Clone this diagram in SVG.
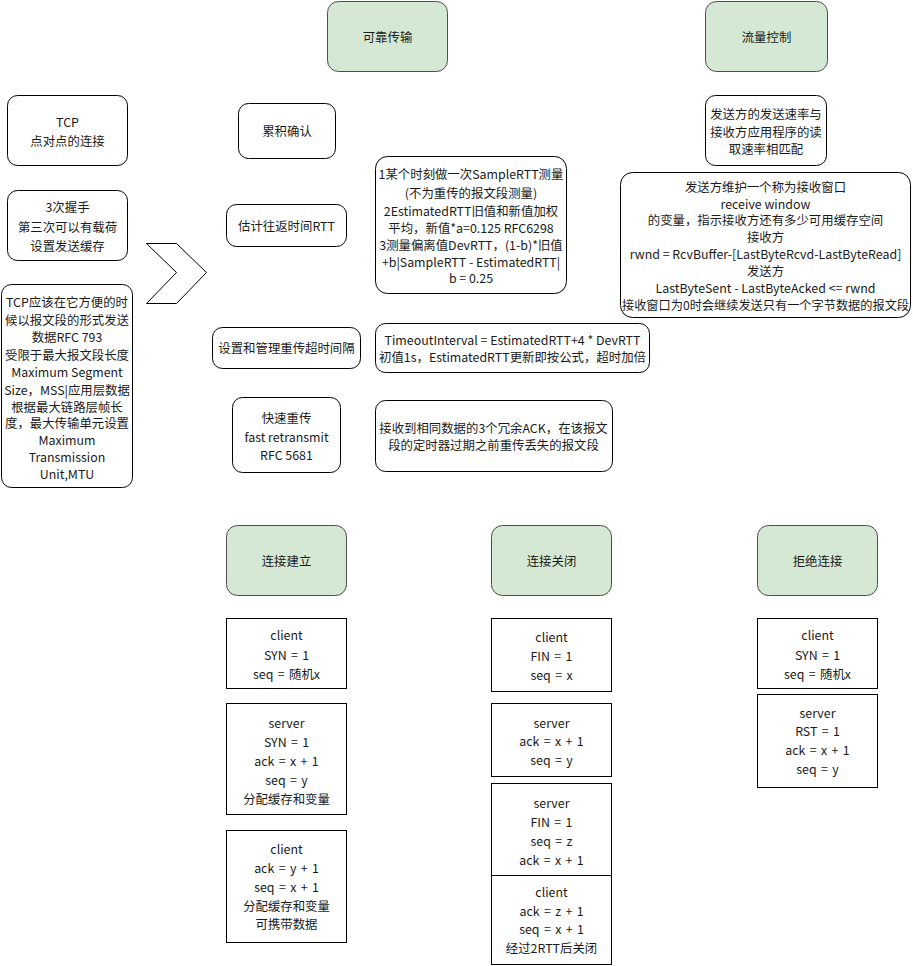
<svg xmlns="http://www.w3.org/2000/svg" width="913" height="966" viewBox="0 0 913 966">
  <style>
    .box { fill: #ffffff; stroke: #000000; stroke-width: 1; }
    .head { fill: #d5e8d4; stroke: #4d4d4d; stroke-width: 1; }
    .sq { fill: #ffffff; stroke: #000000; stroke-width: 1; }
    text { font-family: "Noto Sans CJK SC", "Noto Sans", sans-serif; font-size: 12.4px; fill: #1a1a1a; text-anchor: middle; dominant-baseline: central; }
    .seg text { word-spacing: 1.6px; }
  </style>
  <rect width="913" height="966" fill="#ffffff"/>

  <!-- section headers -->
  <g id="reliable">
    <rect class="head" x="327.5" y="1.5" width="120" height="70" rx="11"/>
    <text x="387.5" y="37">可靠传输</text>
  </g>
  <g id="flow-control">
    <rect class="head" x="705.5" y="1.5" width="122" height="70" rx="11"/>
    <text x="766.5" y="37">流量控制</text>
  </g>

  <!-- left column -->
  <g id="tcp">
    <rect class="box" x="7.5" y="95.5" width="120" height="70" rx="10"/>
    <text x="67.5" y="122">TCP</text>
    <text x="67.5" y="141">点对点的连接</text>
  </g>
  <g id="handshake">
    <rect class="box" x="7.5" y="190.5" width="120" height="70" rx="10"/>
    <text x="67.5" y="207">3次握手</text>
    <text x="67.5" y="226.5">第三次可以有载荷</text>
    <text x="67.5" y="246">设置发送缓存</text>
  </g>
  <g id="mss">
    <rect class="box" x="1.5" y="284.5" width="131" height="203" rx="10"/>
    <text x="67" y="302">TCP应该在它方便的时</text>
    <text x="67" y="319.5">候以报文段的形式发送</text>
    <text x="67" y="337">数据RFC 793</text>
    <text x="67" y="354.5">受限于最大报文段长度</text>
    <text x="67" y="372">Maximum Segment</text>
    <text x="67" y="389.5">Size，MSS|应用层数据</text>
    <text x="67" y="406.5">根据最大链路层帧长</text>
    <text x="67" y="423">度，最大传输单元设置</text>
    <text x="67" y="440">Maximum</text>
    <text x="67" y="457">Transmission</text>
    <text x="67" y="474">Unit,MTU</text>
  </g>
  <g id="chevron">
    <polygon points="146.5,243.5 176.5,243.5 206.5,272.5 176.5,303.5 146.5,303.5 176.5,272.5" fill="#ffffff" stroke="#000000" stroke-width="1"/>
  </g>

  <!-- reliable transfer items -->
  <g id="cumulative-ack">
    <rect class="box" x="238.5" y="103.5" width="97" height="55" rx="10"/>
    <text x="287" y="131">累积确认</text>
  </g>
  <g id="rtt">
    <rect class="box" x="226.5" y="204.5" width="120" height="42" rx="10"/>
    <text x="286.5" y="225.5">估计往返时间RTT</text>
  </g>
  <g id="timeout">
    <rect class="box" x="212.5" y="327.5" width="148" height="41" rx="10"/>
    <text x="286.5" y="348">设置和管理重传超时间隔</text>
  </g>
  <g id="fast-retransmit">
    <rect class="box" x="232.5" y="397.5" width="108" height="75" rx="10"/>
    <text x="286.5" y="417.5">快速重传</text>
    <text x="286.5" y="436.5">fast retransmit</text>
    <text x="286.5" y="455">RFC 5681</text>
  </g>
  <g id="rtt-detail">
    <rect class="box" x="375.5" y="156.5" width="191" height="137" rx="12"/>
    <text x="471" y="174">1某个时刻做一次SampleRTT测量</text>
    <text x="471" y="192.5">(不为重传的报文段测量)</text>
    <text x="471" y="210.5">2EstimatedRTT旧值和新值加权</text>
    <text x="471" y="227.5">平均，新值*a=0.125 RFC6298</text>
    <text x="471" y="244.5">3测量偏离值DevRTT，(1-b)*旧值</text>
    <text x="471" y="261.5">+b|SampleRTT - EstimatedRTT|</text>
    <text x="471" y="278">b = 0.25</text>
  </g>
  <g id="timeout-detail">
    <rect class="box" x="375.5" y="323.5" width="274" height="49" rx="10"/>
    <text x="512.5" y="340">TimeoutInterval = EstimatedRTT+4 * DevRTT</text>
    <text x="512.5" y="356.5">初值1s，EstimatedRTT更新即按公式，超时加倍</text>
  </g>
  <g id="fast-retransmit-detail">
    <rect class="box" x="375.5" y="400.5" width="237" height="71" rx="10"/>
    <text x="493.5" y="428">接收到相同数据的3个冗余ACK，在该报文</text>
    <text x="493.5" y="444.5">段的定时器过期之前重传丢失的报文段</text>
  </g>

  <!-- flow control items -->
  <g id="rate-match">
    <rect class="box" x="705.5" y="95.5" width="121" height="70" rx="10"/>
    <text x="766" y="113.5">发送方的发送速率与</text>
    <text x="766" y="131.5">接收方应用程序的读</text>
    <text x="766" y="149">取速率相匹配</text>
  </g>
  <g id="rwnd">
    <rect class="box" x="620.5" y="172.5" width="290" height="145" rx="12"/>
    <text x="765.5" y="187">发送方维护一个称为接收窗口</text>
    <text x="765.5" y="203.5">receive window</text>
    <text x="765.5" y="220">的变量，指示接收方还有多少可用缓存空间</text>
    <text x="765.5" y="237">接收方</text>
    <text x="765.5" y="254">rwnd = RcvBuffer-[LastByteRcvd-LastByteRead]</text>
    <text x="765.5" y="271">发送方</text>
    <text x="765.5" y="288">LastByteSent - LastByteAcked &lt;= rwnd</text>
    <text x="765.5" y="304.5" style="font-size:12.2px">接收窗口为0时会继续发送只有一个字节数据的报文段</text>
  </g>

  <!-- connection setup -->
  <g id="setup">
    <rect class="head" x="226.5" y="525.5" width="120" height="70" rx="11"/>
    <text x="286.5" y="561">连接建立</text>
  </g>
  <g id="setup-1" class="seg">
    <rect class="sq" x="226.5" y="618.5" width="120" height="70"/>
    <text x="286.5" y="635">client</text>
    <text x="286.5" y="654.5">SYN = 1</text>
    <text x="286.5" y="674">seq = 随机x</text>
  </g>
  <g id="setup-2" class="seg">
    <rect class="sq" x="226.5" y="703.5" width="120" height="111"/>
    <text x="286.5" y="722.5">server</text>
    <text x="286.5" y="741.5">SYN = 1</text>
    <text x="286.5" y="760.5">ack = x + 1</text>
    <text x="286.5" y="779.5">seq = y</text>
    <text x="286.5" y="798.5">分配缓存和变量</text>
  </g>
  <g id="setup-3" class="seg">
    <rect class="sq" x="226.5" y="830.5" width="120" height="112"/>
    <text x="286.5" y="848.5">client</text>
    <text x="286.5" y="867.5">ack = y + 1</text>
    <text x="286.5" y="886.5">seq = x + 1</text>
    <text x="286.5" y="905.5">分配缓存和变量</text>
    <text x="286.5" y="924">可携带数据</text>
  </g>

  <!-- connection teardown -->
  <g id="teardown">
    <rect class="head" x="491.5" y="525.5" width="120" height="70" rx="11"/>
    <text x="551.5" y="561">连接关闭</text>
  </g>
  <g id="teardown-1" class="seg">
    <rect class="sq" x="491.5" y="618.5" width="120" height="73"/>
    <text x="551.5" y="636.5">client</text>
    <text x="551.5" y="655.5">FIN = 1</text>
    <text x="551.5" y="675">seq = x</text>
  </g>
  <g id="teardown-2" class="seg">
    <rect class="sq" x="491.5" y="703.5" width="120" height="73"/>
    <text x="551.5" y="722.5">server</text>
    <text x="551.5" y="741">ack = x + 1</text>
    <text x="551.5" y="760">seq = y</text>
  </g>
  <g id="teardown-3" class="seg">
    <rect class="sq" x="491.5" y="783.5" width="120" height="92"/>
    <text x="551.5" y="802.5">server</text>
    <text x="551.5" y="821.5">FIN = 1</text>
    <text x="551.5" y="840.5">seq = z</text>
    <text x="551.5" y="859.5">ack = x + 1</text>
  </g>
  <g id="teardown-4" class="seg">
    <rect class="sq" x="491.5" y="875.5" width="120" height="89"/>
    <text x="551.5" y="891.5">client</text>
    <text x="551.5" y="910.5">ack = z + 1</text>
    <text x="551.5" y="929">seq = x + 1</text>
    <text x="551.5" y="947.5">经过2RTT后关闭</text>
  </g>

  <!-- connection refused -->
  <g id="refuse">
    <rect class="head" x="757.5" y="525.5" width="120" height="70" rx="11"/>
    <text x="817.5" y="561">拒绝连接</text>
  </g>
  <g id="refuse-1" class="seg">
    <rect class="sq" x="757.5" y="618.5" width="120" height="70"/>
    <text x="817.5" y="635">client</text>
    <text x="817.5" y="654.5">SYN = 1</text>
    <text x="817.5" y="674">seq = 随机x</text>
  </g>
  <g id="refuse-2" class="seg">
    <rect class="sq" x="757.5" y="694.5" width="120" height="93"/>
    <text x="817.5" y="712.5">server</text>
    <text x="817.5" y="731">RST = 1</text>
    <text x="817.5" y="750">ack = x + 1</text>
    <text x="817.5" y="769">seq = y</text>
  </g>

  <g id="connectors"/>
</svg>
